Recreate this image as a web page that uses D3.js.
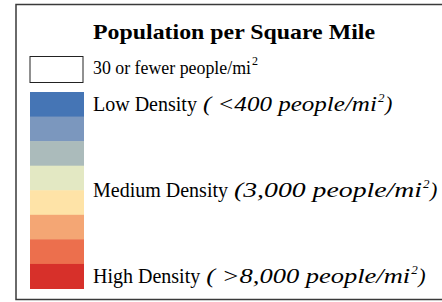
<!DOCTYPE html>
<html><head><meta charset="utf-8">
<script src="https://cdn.jsdelivr.net/npm/d3@7"></script>
</head><body style="margin:0">
<script>
const title = "Population per Square Mile";
const noDataLabel = "30 or fewer people/mi";
const swatchColors = ["#4575b5","#7b97be","#abbbbb","#e3e8c3","#fee3a7","#f4a674","#ec6f4d","#d7302a"];
const labelNames = ["Low Density", "Medium Density", "High Density"];
const labelDetails = ["( <400 people/mi", "(3,000 people/mi", "( >8,000 people/mi"];
const labelPositions = [0, 3.5, 7]; // in swatch-index units

// layout (pixel widths of the text runs, as drawn in the reference)
const titleWidth = 282, noDataWidth = 158;
const detailWidths = [174, 188, 204];

const W = 442, H = 302;
const FONT = '"Liberation Serif"';
const svg = d3.select("body").append("svg").attr("width", W).attr("height", H)
  .style("display", "block");

svg.append("rect").attr("x", 16).attr("y", 4.5).attr("width", 440).attr("height", 295)
  .attr("fill", "#fff").attr("stroke", "#3a3a3a").attr("stroke-width", 1.5);

svg.append("text").attr("x", 93).attr("y", 39).style("font-family", FONT)
  .attr("font-weight", "bold").attr("font-size", 22).attr("fill", "#000")
  .attr("textLength", titleWidth).attr("lengthAdjust", "spacingAndGlyphs").text(title);

function seg(x, yy, txt, opts) {
  const t = svg.append("text").attr("x", x).attr("y", yy).style("font-family", FONT)
    .attr("font-size", opts.size || 20).attr("fill", "#000").text(txt);
  if (opts.italic) t.attr("font-style", "italic");
  if (opts.len) t.attr("textLength", opts.len).attr("lengthAdjust", "spacingAndGlyphs");
  return opts.len ? x + opts.len : x + t.node().getComputedTextLength();
}

// no-data swatch
svg.append("rect").attr("x", 30).attr("y", 56.5).attr("width", 53).attr("height", 26)
  .attr("fill", "#fff").attr("stroke", "#222").attr("stroke-width", 1);
let x0 = seg(93, 74, noDataLabel, {size: 19.5, len: noDataWidth});
seg(x0 + 1, 65, "2", {size: 12});

const y = d3.scaleBand().domain(d3.range(swatchColors.length)).range([92, 288.5]).padding(0);
svg.selectAll("rect.sw").data(swatchColors).join("rect").attr("class", "sw")
  .attr("x", 30).attr("y", (d, i) => y(i)).attr("width", 54).attr("height", y.bandwidth() + 0.5)
  .attr("fill", d => d);

labelNames.forEach((name, i) => {
  const base = y(0) + y.bandwidth() * (labelPositions[i] + 0.5) + 6.5;
  let x = seg(93, base, name + "\u00a0", {});
  x = seg(x + 1, base, labelDetails[i], {italic: true, size: 22, len: detailWidths[i]});
  x = seg(x + 1, base - 9, "2", {italic: true, size: 13});
  seg(x + 0.5, base, ")", {italic: true, size: 22});
});
</script>
</body></html>
